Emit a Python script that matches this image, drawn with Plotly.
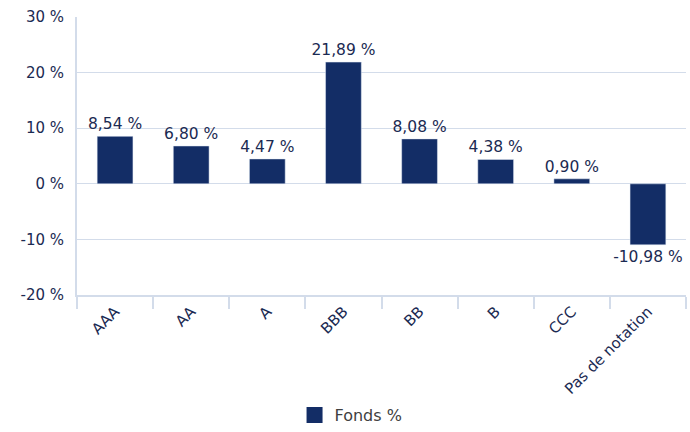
import plotly.graph_objects as go

CATEGORIES = ["AAA", "AA", "A", "BBB", "BB", "B", "CCC", "Pas de notation"]
FONDS = [8.54, 6.80, 4.47, 21.89, 8.08, 4.38, 0.90, -10.98]
Y_TICKS = [-20, -10, 0, 10, 20, 30]
Y_TICK_LABELS = [f"{v} %" for v in Y_TICKS]

NAVY = "#132d66"
TEXT = "#1b2a52"
GRID = "#d3dcea"

fig = go.Figure()
fig.add_trace(go.Bar(
    x=CATEGORIES, y=FONDS, name="Fonds %", marker_color=NAVY, showlegend=False,
    texttemplate="%{y:.2f} %", textposition="outside", cliponaxis=False,
    constraintext="none", textfont={"color": TEXT, "size": 15.5},
))
# legend entry drawn as a larger square, like the reference
fig.add_trace(go.Scatter(
    x=[None], y=[None], mode="markers", name="Fonds %",
    marker={"symbol": "square", "size": 20, "color": NAVY},
))
fig.update_layout(
    width=690, height=432, paper_bgcolor="white", plot_bgcolor="white",
    separators=", ",
    font={"family": "DejaVu Sans, Verdana, sans-serif", "color": TEXT, "size": 15},
    margin={"l": 77, "r": 4, "t": 17, "b": 137},
    bargap=0.53, showlegend=True,
    legend={"orientation": "h", "x": 0.45, "xanchor": "center", "y": -0.03, "yanchor": "bottom",
            "yref": "container", "font": {"size": 16, "color": "#404040"}, "itemwidth": 30},
)
fig.update_yaxes(
    range=[-20, 30], tickvals=Y_TICKS, ticktext=Y_TICK_LABELS, showgrid=True, gridcolor=GRID,
    zeroline=True, zerolinecolor=GRID, zerolinewidth=1, showline=True, linecolor=GRID,
    linewidth=2, ticks="", ticklabelstandoff=8, automargin=False,
)
fig.update_xaxes(
    tickangle=-45, showline=True, linecolor=GRID, linewidth=2, ticks="outside",
    tickson="boundaries", ticklen=12, tickcolor=GRID, tickwidth=2, showgrid=False,
    automargin=False,
)
fig.write_html("out.html", config={"displayModeBar": False},
               post_script="document.body.style.margin = '0';")
